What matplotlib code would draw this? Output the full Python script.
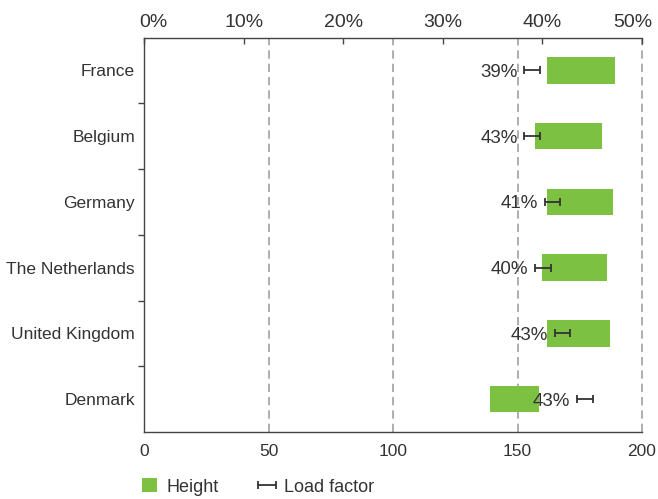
import matplotlib
matplotlib.use('Agg')
import matplotlib.pyplot as plt
from matplotlib.patches import Patch
from matplotlib.transforms import ScaledTranslation
import numpy as np

plt.rcParams['font.family'] = ['Liberation Sans', 'DejaVu Sans']

categories = ['France', 'Belgium', 'Germany', 'The Netherlands', 'United Kingdom', 'Denmark']
height_low = [162, 157, 162, 160, 162, 139]
height_high = [189, 184, 188.5, 186, 187, 158.5]
load_low = [38.2, 38.2, 40.3, 39.3, 41.3, 43.5]
load_high = [39.8, 39.8, 41.8, 40.9, 42.8, 45.1]
load_labels = ['39%', '43%', '41%', '40%', '43%', '43%']
height_ticks = [0, 50, 100, 150, 200]
pct_ticks = [0, 10, 20, 30, 40, 50]
pct_labels = ['0%', '10%', '20%', '30%', '40%', '50%']

GREEN = '#7DC142'
TXT = '#333333'
SPINE = '#444444'
FS = 12.5

fig = plt.figure(figsize=(6.58, 4.99), dpi=100)
ax = fig.add_axes([144/658, 1-432/499, (642-144)/658, (432-37.5)/499])
ax.set_xlim(0, 200)
ax.set_ylim(len(categories)-0.5, -0.5)
y = np.arange(len(categories))

ax.barh(y, np.subtract(height_high, height_low), left=height_low, height=0.4,
        color=GREEN, zorder=2)
for v in height_ticks[1:]:
    ax.axvline(v, color='#a0a0a0', lw=1.2, ls=(0, (5, 3)), zorder=1, clip_on=False)

ax.set_xticks(height_ticks)
ax.set_xticklabels([str(t) for t in height_ticks])
ax.tick_params(axis='x', bottom=True, length=0, pad=8.5, labelsize=FS, labelcolor=TXT)
ax.set_yticks(np.arange(len(categories)-1) + 0.5)
ax.set_yticklabels([])
ax.tick_params(axis='y', which='major', direction='out', length=4, width=1, color=SPINE)
ax.set_yticks(y, minor=True)
ax.set_yticklabels(categories, minor=True)
ax.tick_params(axis='y', which='minor', length=0, pad=6.5, labelsize=FS, labelcolor=TXT)
ax.spines['right'].set_visible(False)
ax.spines['top'].set_visible(False)
for s in ['left', 'bottom']:
    ax.spines[s].set_color(SPINE)
    ax.spines[s].set_linewidth(1)

ax2 = ax.twiny()
ax2.set_xlim(0, 50)
lo = np.array(load_low)
hi = np.array(load_high)
mid = (lo + hi) / 2
err = (hi - lo) / 2
eb = ax2.errorbar(mid, y, xerr=err, fmt='none', ecolor='#333333', elinewidth=1.3,
                  capsize=3, capthick=1.3, zorder=3)
for yi, l, lbl in zip(y, lo, load_labels):
    ax2.annotate(lbl, xy=(l, yi), xytext=(-5, -1.5), textcoords='offset points',
                 ha='right', va='center', fontsize=13.5, color=TXT)
ax2.set_xticks(pct_ticks)
ax2.set_xticklabels(pct_labels)
ax2.tick_params(axis='x', top=True, direction='in', length=4, width=1, color=SPINE,
                pad=4.5, labelsize=14, labelcolor=TXT)
for s in ['left', 'right', 'bottom']:
    ax2.spines[s].set_visible(False)
ax2.spines['top'].set_color(SPINE)
ax2.spines['top'].set_linewidth(1)
labs = ax2.get_xticklabels()
labs[0].set_transform(labs[0].get_transform() + ScaledTranslation(9/100, 0, fig.dpi_scale_trans))
labs[-1].set_transform(labs[-1].get_transform() + ScaledTranslation(-9/100, 0, fig.dpi_scale_trans))

fig.legend([Patch(facecolor=GREEN), eb], ['Height', 'Load factor'],
           loc='center left', bbox_to_anchor=(142/658, 1-487/499), ncol=2,
           frameon=False, handlelength=0.83, handleheight=0.83, handletextpad=0.5,
           columnspacing=2.3, borderaxespad=0, borderpad=0, fontsize=13,
           labelcolor=TXT)

fig.savefig('out.png', dpi=100)
